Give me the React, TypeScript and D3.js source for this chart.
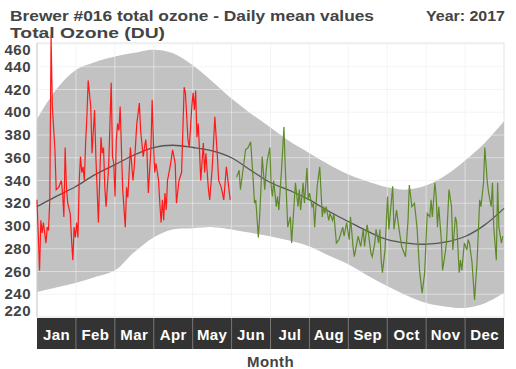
import React from 'react';
import * as d3 from 'd3';

const months = ['Jan', 'Feb', 'Mar', 'Apr', 'May', 'Jun', 'Jul', 'Aug', 'Sep', 'Oct', 'Nov', 'Dec'];
const yTicks = [220, 240, 260, 280, 300, 320, 340, 360, 380, 400, 420, 440, 460];

// Jan - May measurements (day of year, DU)
const redDays = [1, 3, 4, 5, 6, 8, 9, 10, 11, 12, 13, 15, 16, 18, 20, 21, 22, 23, 24, 25, 27, 28, 29, 30, 31, 32, 33, 34, 35, 36, 37, 38, 39, 40, 41, 43, 44, 46, 47, 49, 51, 52, 53, 54, 55, 57, 59, 60, 61, 62, 63, 64, 65, 66, 67, 68, 70, 71, 72, 74, 76, 77, 79, 81, 82, 84, 85, 86, 87, 88, 90, 91, 92, 93, 94, 96, 97, 98, 99, 100, 101, 102, 103, 105, 107, 109, 110, 112, 114, 115, 116, 117, 119, 120, 122, 123, 124, 125, 126, 127, 128, 129, 131, 132, 133, 135, 136, 138, 140, 142, 143, 145, 147, 148, 149, 152];
const redValues = [323, 261, 305, 294, 303, 285, 299, 296, 323, 468, 405, 367, 332, 334, 340, 329, 308, 369, 334, 320, 311, 288, 270, 299, 290, 303, 290, 340, 361, 347, 352, 340, 373, 396, 428, 405, 364, 402, 361, 303, 378, 364, 369, 334, 317, 352, 426, 361, 355, 326, 376, 390, 384, 405, 367, 332, 299, 334, 325, 369, 340, 352, 390, 408, 384, 361, 369, 376, 364, 329, 367, 411, 373, 347, 355, 340, 320, 303, 323, 305, 329, 314, 340, 352, 367, 355, 320, 340, 347, 384, 422, 417, 376, 369, 405, 417, 402, 419, 378, 390, 367, 340, 373, 347, 364, 332, 323, 352, 396, 361, 340, 334, 323, 338, 352, 323];

// Jun - Dec measurements
const greenDays = [157, 159, 160, 163, 164, 166, 168, 170, 171, 172, 174, 175, 176, 177, 179, 180, 181, 183, 184, 185, 186, 188, 189, 190, 192, 194, 195, 197, 199, 200, 201, 203, 205, 206, 207, 209, 210, 212, 213, 214, 216, 217, 218, 220, 222, 224, 225, 226, 227, 229, 230, 232, 233, 235, 237, 240, 241, 243, 245, 246, 248, 249, 251, 252, 254, 256, 257, 259, 260, 262, 263, 265, 266, 268, 269, 270, 271, 273, 275, 276, 279, 280, 282, 284, 286, 289, 291, 292, 294, 296, 298, 300, 302, 304, 306, 308, 309, 310, 312, 313, 314, 315, 317, 318, 320, 321, 323, 325, 326, 328, 329, 331, 332, 333, 335, 337, 338, 339, 341, 343, 345, 347, 348, 350, 351, 353, 354, 356, 357, 358, 360, 361, 362, 364, 365];
const greenValues = [343, 349, 332, 358, 367, 369, 374, 340, 320, 323, 290, 308, 332, 361, 332, 347, 358, 369, 335, 326, 340, 317, 326, 314, 347, 387, 352, 299, 308, 285, 303, 338, 317, 332, 314, 338, 320, 351, 323, 329, 317, 320, 299, 335, 352, 308, 317, 311, 317, 305, 311, 305, 311, 285, 288, 299, 291, 303, 288, 308, 282, 273, 285, 291, 282, 297, 282, 301, 294, 276, 273, 285, 297, 285, 297, 270, 259, 279, 326, 297, 335, 297, 314, 297, 282, 273, 305, 336, 317, 320, 299, 261, 241, 259, 311, 308, 323, 308, 338, 326, 299, 317, 288, 261, 276, 285, 332, 317, 279, 308, 303, 259, 270, 261, 285, 279, 288, 285, 268, 235, 270, 323, 317, 338, 369, 338, 329, 317, 338, 299, 270, 338, 299, 285, 291];

// climatology: envelope and mean
const climDays = [1, 16, 31, 46, 62, 76, 92, 107, 123, 138, 153, 168, 183, 199, 214, 229, 245, 260, 275, 290, 306, 321, 336, 351, 366];
const climUpper = [394, 420, 437, 444, 449, 452, 455, 452, 441, 427, 412, 399, 387, 374, 364, 354, 345, 339, 334, 332, 336, 345, 358, 373, 392];
const climLower = [242, 246, 250, 255, 261, 276, 290, 297, 298, 299, 297, 294, 291, 287, 282, 274, 266, 256, 247, 239, 232, 229, 228, 232, 241];
const climMean = [317, 326, 334.5, 345, 354, 362, 369, 371, 369, 366, 360, 349, 338.5, 331, 323, 313, 303.5, 295, 288, 285, 284, 286, 291, 301, 315.5];

const W = 516;
const H = 369;
const left = 37;
const right = 504;
const top = 43;
const bottom = 317;
const font = '"Liberation Sans", Arial, Helvetica, sans-serif';

export default function App() {
  const x = d3.scaleLinear().domain([1, 366]).range([left, right]);
  // 20 DU per 22.75px; 460 lands just under the frame top
  const y = d3.scaleLinear().domain([220, 460]).range([bottom, bottom - 12 * 22.75]);
  const band = d3.scaleBand<string>().domain(months).range([left, right]);

  const area = d3
    .area<number>()
    .x((_, i) => x(climDays[i]))
    .y0((_, i) => y(climLower[i]))
    .y1((_, i) => y(climUpper[i]))
    .curve(d3.curveCatmullRom);
  const meanLine = d3
    .line<number>()
    .x((_, i) => x(climDays[i]))
    .y((d) => y(d))
    .curve(d3.curveCatmullRom);
  const dataLine = (days: number[]) =>
    d3
      .line<number>()
      .x((_, i) => x(days[i]))
      .y((d) => y(d));

  const labelY = (v: number) => Math.min(Math.max(y(v) + 5, top + 12), bottom - 1);

  return (
    <svg width={W} height={H} style={{ position: 'absolute', left: 0, top: 0, fontFamily: font }}>
      <rect x={0} y={0} width={W} height={H} fill="#fff" />
      <text x={10} y={21} fontSize={15} fontWeight="bold" fill="#444" textLength={364} lengthAdjust="spacingAndGlyphs">
        Brewer #016 total ozone - Daily mean values
      </text>
      <text x={426} y={21} fontSize={15} fontWeight="bold" fill="#444" textLength={79} lengthAdjust="spacingAndGlyphs">
        Year: 2017
      </text>
      <text x={10} y={38} fontSize={15} fontWeight="bold" fill="#444" textLength={155} lengthAdjust="spacingAndGlyphs">
        Total Ozone (DU)
      </text>

      <rect x={left} y={top} width={right - left} height={bottom - top} fill="#fff" stroke="#e4e4e4" />
      <path d={area(climDays) || ''} fill="#c2c2c2" />
      {yTicks.map((t) => (
        <line key={t} x1={left} x2={right} y1={y(t)} y2={y(t)} stroke="#eeeeee" strokeOpacity={0.6} />
      ))}
      {months.slice(1).map((m) => (
        <line key={m} x1={band(m)!} x2={band(m)!} y1={top} y2={bottom} stroke="#eeeeee" strokeOpacity={0.6} />
      ))}
      <line x1={left} x2={left} y1={top} y2={bottom} stroke="#cfcfcf" />

      <path d={meanLine(climMean) || ''} fill="none" stroke="#555" strokeWidth={1.3} />
      <path d={dataLine(redDays)(redValues) || ''} fill="none" stroke="#ff1a1a" strokeWidth={1.2} />
      <path d={dataLine(greenDays)(greenValues) || ''} fill="none" stroke="#5f8a2a" strokeWidth={1.2} />

      {yTicks.map((t) => (
        <text key={t} x={31} y={labelY(t)} fontSize={15} fontWeight="bold" fill="#444" textAnchor="end" letterSpacing={0.5}>
          {t}
        </text>
      ))}

      <rect x={left} y={318} width={right - left} height={31} fill="#333" />
      {months.map((m, i) => (
        <g key={m}>
          {i > 0 && <line x1={band(m)!} x2={band(m)!} y1={318} y2={349} stroke="#777" />}
          <text
            x={band(m)! + band.bandwidth() / 2}
            y={340}
            fontSize={15}
            fontWeight="bold"
            fill="#fff"
            textAnchor="middle"
            letterSpacing={0.4}
          >
            {m}
          </text>
        </g>
      ))}
      <text x={(left + right) / 2} y={367} fontSize={15} fontWeight="bold" fill="#444" textAnchor="middle" letterSpacing={0.4}>
        Month
      </text>
    </svg>
  );
}
